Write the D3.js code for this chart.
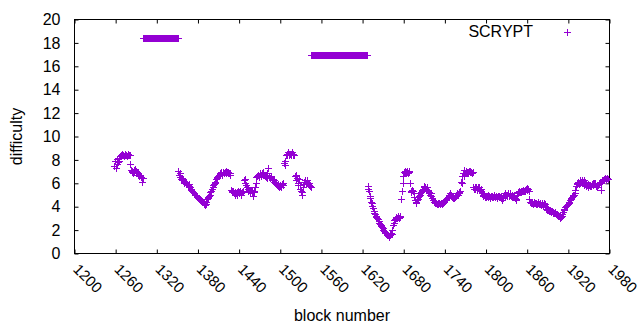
<!DOCTYPE html>
<html><head><meta charset="utf-8">
<script src="https://cdn.jsdelivr.net/npm/d3@7"></script>
<style>
body{margin:0;background:#fff}
svg{display:block}
text{font-family:"Liberation Sans",Arial,sans-serif;font-size:16px;fill:#000}
</style>
</head><body>
<svg id="chart" width="640" height="330"></svg>
<script>
// ---- data (block number -> difficulty), consecutive blocks per segment ----
const xTicks = [1200,1260,1320,1380,1440,1500,1560,1620,1680,1740,1800,1860,1920,1980];
const yTicks = [0,2,4,6,8,10,12,14,16,18,20];
const seriesName = "SCRYPT";

const segAStart = 1259;
const segA = [7.4,7.9,7.3,7.6,8.0,7.8,8.1,7.9,8.3,
 8.4,8.3,8.5,8.4,8.4,8.3,8.5,8.4,8.4,8.3,8.4,8.5,8.4,8.4,
 7.6,7.1,6.9,
 7.0,6.8,7.1,6.9,7.2,6.8,7.0,6.9,6.7,6.8,6.6,6.7,6.5,
 6.5,6.1,6.4];

const plateau1Start = 1301;
const plateau1 = [18.4,18.4,18.4,18.4,18.4,18.4,18.4,18.4,18.4,18.4,
 18.4,18.4,18.4,18.4,18.4,18.4,18.4,18.4,18.4,18.4,
 18.4,18.4,18.4,18.4,18.4,18.4,18.4,18.4,18.4,18.4,
 18.4,18.4,18.4,18.4,18.4,18.4,18.4,18.4,18.4,18.4,
 18.4,18.4,18.4,18.4,18.4,18.4,18.4,18.4,18.4,18.4,18.4];

const segBStart = 1352;
const segB = [6.97,6.7,6.8,6.5,6.3,6.4,
 6.2,6.3,6.1,6.0,6.1,5.9,6.0,5.9,5.8,5.9,
 5.7,5.6,5.5,5.4,5.3,5.2,5.2,5.1,5.0,5.0,4.95,4.9,4.8,4.7,4.6,4.55,4.5,4.5,4.4,4.45,4.4,4.3,4.2,4.13,
 4.2,4.4,4.6,4.7,4.8,4.9,5.0,5.2,5.3,5.5,5.6,5.8,5.9,6.0,6.1,6.3,6.4,6.5,6.6,6.7,
 6.7,6.8,6.9,6.8,6.7,6.9,6.8,6.8,6.9,7.0,6.8,6.9,6.8,6.9,6.8,6.7,6.8,
 5.4,5.3,5.2,5.3,5.1,5.2,5.0,5.1,5.0,5.2,5.3,5.1,5.2,5.3,5.1,5.0,5.2,5.3,5.2,
 6.2,6.0,6.3,5.8,5.6,5.5,5.3,5.4,5.2,5.3,5.4,5.2,5.3,4.9,5.2,5.3,5.6,6.0,
 6.5,6.6,6.7,6.5,6.6,6.8,6.7,6.6,6.8,6.7,6.9,6.7,6.6,6.7,6.5,
 6.4,6.8,7.26,6.6,
 6.5,6.4,6.55,6.3,6.2,6.3,6.1,6.26,6.0,5.9,6.0,5.8,5.7,5.9,5.6,5.8,5.7,5.6,5.9,5.8,6.0,
 7.7,7.55,7.9,
 8.4,8.5,8.4,8.6,8.5,8.4,8.5,8.4,8.5,8.6,8.4,8.5,8.4,
 6.55,6.7,6.26,6.4,5.84,6.0,6.3,5.8,
 5.5,5.3,5.0,5.2,5.6,5.9,6.1,6.2,6.0,6.25,6.1,5.9,6.0,5.8,5.7,5.6];

const plateau2Start = 1546;
const plateau2 = [16.95,16.95,16.95,16.95,16.95,16.95,16.95,16.95,16.95,16.95,
 16.95,16.95,16.95,16.95,16.95,16.95,16.95,16.95,16.95,16.95,
 16.95,16.95,16.95,16.95,16.95,16.95,16.95,16.95,16.95,16.95,
 16.95,16.95,16.95,16.95,16.95,16.95,16.95,16.95,16.95,16.95,
 16.95,16.95,16.95,16.95,16.95,16.95,16.95,16.95,16.95,16.95,
 16.95,16.95,16.95,16.95,16.95,16.95,16.95,16.95,16.95,16.95,
 16.95,16.95,16.95,16.95,16.95,16.95,16.95,16.95,16.95,16.95,
 16.95,16.95,16.95,16.95,16.95,16.95,16.95,16.95,16.95,16.95,
 16.95,16.95];

const segCStart = 1628;
const segC = [5.7,5.5,5.3,4.9,4.7,4.4,4.27,4.0,3.85,3.6,3.4,3.3,3.2,3.1,3.0,2.9,2.7,2.56,2.5,2.4,
 2.3,2.2,2.14,2.0,1.9,1.8,1.7,1.75,1.6,1.56,1.5,1.4,1.6,1.5,1.7,1.6,2.0,2.4,2.6,2.8,
 2.9,3.0,3.1,3.0,3.2,3.1,3.0,3.2,3.1,
 4.6,5.26,6.0,6.6,6.9,7.0,6.8,6.9,7.0,6.9,6.8,6.9,7.0,6.0,
 5.3,5.2,5.4,5.26,5.1,4.8,4.5,4.27,4.4,4.55,4.6,4.8,4.9,5.0,5.1,5.2,5.3,5.4,5.5,5.6,
 5.7,5.6,5.5,5.6,5.4,5.3,5.2,5.1,5.0,4.9,5.1,
 4.7,4.55,4.5,4.4,4.3,4.35,4.27,4.2,4.3,4.2,4.25,4.15,4.2,4.3,4.2,4.3,4.25,4.35,4.4,4.5,
 4.55,4.6,4.7,4.8,4.9,5.0,5.1,4.9,5.0,4.8,4.7,4.8,4.7,4.9,4.8,4.84,5.0,5.1,5.0,5.2,5.1,5.3,
 6.1,6.55,6.0,6.84,7.1,6.6,
 6.8,6.9,7.0,6.9,6.8,6.9,7.0,6.9,7.0,6.9,6.8,6.9,
 5.6,5.5,5.6,5.5,5.6,5.5,5.4,5.6,5.5,5.6,5.4,5.5,5.3,
 5.1,5.0,4.9,5.0,4.8,4.9,4.8,4.9,5.0,4.8,4.9,4.7,4.8,4.9,4.8,4.9,4.8,5.0,4.9,4.8,
 4.9,4.8,4.7,4.9,4.8,4.9,4.8,4.9,4.7,
 4.5,4.7,
 4.9,5.0,4.9,5.1,5.0,4.9,5.0,5.1,4.9,5.0,5.1,4.9,4.8,5.0,4.9,5.0,4.8,4.7,
 4.6,4.55,
 5.0,5.1,5.2,5.26,5.2,5.3,5.2,5.26,5.3,5.4,5.3,5.26,5.4,5.5,5.4,5.56,5.5,5.3,
 4.6,4.4,4.3,4.4,4.3,4.2,4.3,4.4,4.3,4.2,4.3,4.2,4.3,4.4,4.2,4.3,4.2,4.1,4.3,4.2,4.1,4.3,4.2,
 4.0,3.8,3.9,3.7,3.7,3.6,3.7,3.6,3.56,3.5,3.6,3.5,3.42,3.4,3.5,3.3,3.35,3.3,3.2,3.25,
 3.2,3.19,3.0,3.1,3.2,3.3,
 3.5,3.7,3.8,3.9,4.0,4.0,4.13,4.2,4.3,4.4,4.55,4.6,4.7,4.8,4.9,5.0,5.0,5.13,5.4,5.7,5.9,
 6.0,6.1,5.9,6.0,6.2,6.1,6.0,6.26,6.1,5.8,6.26,6.1,5.9,5.7,5.8,5.9,5.6,5.8,5.7,5.8,
 5.7,5.9,6.0,5.8,6.0,6.0,5.9,5.7,5.8,5.6,5.84,6.0,5.9,6.1,5.4,6.0,6.2,6.26,6.3,6.26,
 6.4,6.2,6.3,6.4,6.3];

const segments = [[segAStart, segA],[plateau1Start, plateau1],[segBStart, segB],
                  [plateau2Start, plateau2],[segCStart, segC]];
const points = [];
segments.forEach(([start, vals]) => vals.forEach((v, i) => points.push({block: start + i, difficulty: v})));

// ---- drawing ----
const color = "#9400d3";
const L = 74.5, R = 609.5, T = 19.5, B = 253.5;
const svg = d3.select("#chart");
const x = d3.scaleLinear().domain([1200, 1980]).range([L, R]);
const y = d3.scaleLinear().domain([0, 20]).range([B, T]);
const font = '"Liberation Sans",Arial,sans-serif';

// axes with inward ticks
const gx = svg.append("g").attr("transform", `translate(0,${B})`)
  .call(d3.axisBottom(x).tickValues(xTicks).tickSize(-4).tickSizeOuter(0).tickPadding(0).tickFormat(d3.format("d")));

svg.append("g").attr("transform", `translate(${L},0)`)
  .call(d3.axisLeft(y).tickValues(yTicks).tickSize(-4).tickSizeOuter(0).tickPadding(14));

svg.append("g").attr("transform", `translate(0,${T})`)
  .call(d3.axisTop(x).tickValues(xTicks).tickSize(-4).tickSizeOuter(0).tickFormat(""));
svg.append("g").attr("transform", `translate(${R},0)`)
  .call(d3.axisRight(y).tickValues(yTicks).tickSize(-4).tickSizeOuter(0).tickFormat(""));

svg.selectAll(".domain").remove();
svg.selectAll(".tick line").attr("stroke", "#000");
svg.selectAll(".tick text").style("font-family", font).style("font-size", "16px").attr("fill", "#000");
gx.selectAll("text")
  .style("font-size", "15px")
  .attr("x", 0).attr("y", 0).attr("dy", "0.35em")
  .attr("text-anchor", "start")
  .attr("transform", "translate(1,13) rotate(45)");

svg.append("rect").attr("x", L).attr("y", T).attr("width", R - L).attr("height", B - T)
  .attr("fill", "none").attr("stroke", "#000").attr("stroke-width", 1);

// points as '+' markers, snapped to pixel centres
const h = 3.5;
const snap = v => Math.floor(v) + 0.5;
const plus = (cx, cy) => `M${cx - h},${cy}h${2*h}M${cx},${cy - h}v${2*h}`;
svg.append("g").selectAll("path").data(points).join("path")
  .attr("d", d => plus(snap(x(d.block)), snap(y(d.difficulty))))
  .attr("stroke", color).attr("stroke-width", 1).attr("fill", "none");

// labels
svg.append("text").attr("x", (L + R) / 2).attr("y", 321).attr("text-anchor", "middle").text("block number");
svg.append("text").attr("transform", `translate(22,${(T + B) / 2}) rotate(-90)`).attr("text-anchor", "middle").text("difficulty");

// legend
svg.append("text").attr("x", 533).attr("y", 37).attr("text-anchor", "end").text(seriesName);
svg.append("path").attr("d", plus(567.5, 32.5)).attr("stroke", color).attr("stroke-width", 1);
</script>
</body></html>
